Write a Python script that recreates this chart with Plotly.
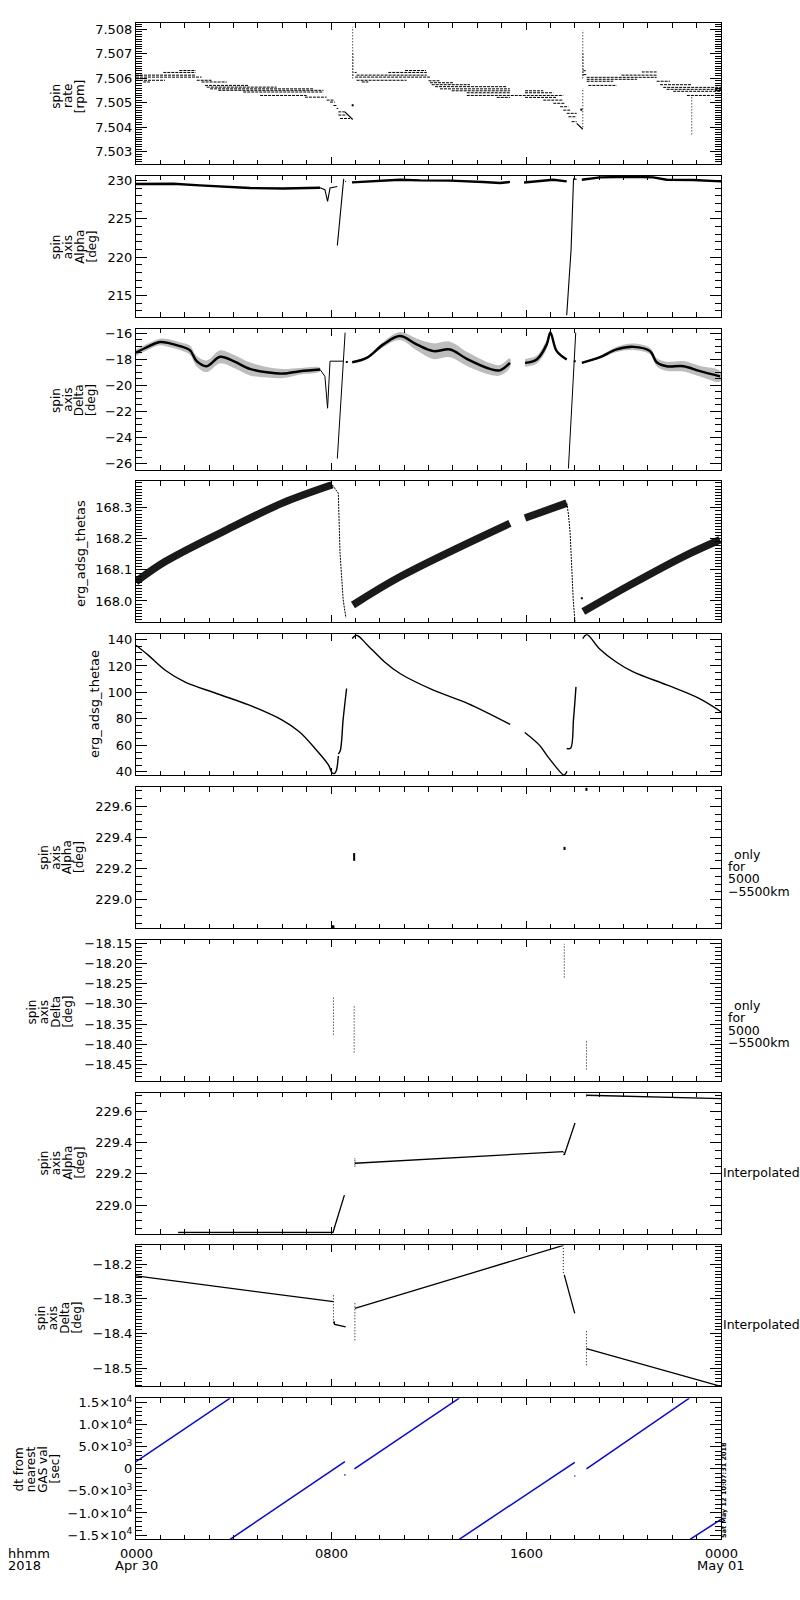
import plotly.graph_objects as go

# ── Values (x = hours after 2018-04-30 00:00) ────────────────────────────────

# panel 1: spin rate [rpm] – quantised levels as horizontal runs (h0, h1, value)
SPIN_RATE_ROWS = [
    (0.00, 2.45, 7.50613), (0.00, 2.69, 7.50605), (0.00, 1.19, 7.50592),
    (0.30, 0.57, 7.50585), (1.12, 2.45, 7.50624), (1.78, 2.45, 7.50632),
    (2.49, 3.10, 7.50592), (2.69, 3.72, 7.50585), (2.83, 4.61, 7.50571),
    (2.90, 5.77, 7.50564), (3.04, 7.27, 7.50557), (3.38, 7.69, 7.50551),
    (4.40, 7.69, 7.50544), (5.09, 7.00, 7.50530), (6.93, 7.82, 7.50523),
    (7.82, 8.10, 7.50511), (7.96, 8.16, 7.50503), (8.10, 8.23, 7.50489),
    (8.23, 8.30, 7.50477), (8.30, 8.57, 7.50463), (8.30, 8.64, 7.50450),
    (8.37, 8.78, 7.50436),
    (8.97, 9.05, 7.50624), (10.35, 11.93, 7.50624), (11.04, 11.90, 7.50632),
    (9.05, 11.93, 7.50613), (8.99, 12.06, 7.50605), (9.05, 11.10, 7.50592),
    (9.26, 9.53, 7.50585), (12.00, 12.47, 7.50590), (12.06, 13.02, 7.50582),
    (12.13, 13.70, 7.50574), (12.27, 15.20, 7.50566), (12.47, 15.34, 7.50557),
    (12.95, 15.34, 7.50549), (13.57, 15.34, 7.50541), (13.57, 17.53, 7.50530),
    (14.80, 15.34, 7.50522), (15.96, 16.71, 7.50549), (15.96, 17.12, 7.50541),
    (15.96, 17.26, 7.50522), (16.71, 17.53, 7.50511), (17.12, 17.60, 7.50498),
    (17.40, 17.74, 7.50484), (17.53, 17.81, 7.50470), (17.67, 18.08, 7.50457),
    (17.74, 18.05, 7.50443), (17.87, 18.08, 7.50423),
    (18.35, 18.45, 7.50631), (18.35, 18.49, 7.50615), (18.49, 21.36, 7.50604),
    (18.49, 20.55, 7.50596), (18.49, 19.58, 7.50588), (18.56, 19.72, 7.50571),
    (19.92, 21.36, 7.50613), (20.75, 21.36, 7.50626), (21.36, 21.91, 7.50588),
    (21.50, 22.79, 7.50574), (21.63, 24.00, 7.50563), (21.77, 24.00, 7.50555),
    (22.04, 24.00, 7.50547), (22.60, 24.00, 7.50530),
]
SPIN_RATE_DROPS = [
    [(8.57, 7.50463), (8.89, 7.50432)],
    [(18.08, 7.50416), (18.33, 7.50392)],
]
SPIN_RATE_SPIKES = [  # (h, low, high)
    (8.89, 7.50600, 7.50810), (8.90, 7.50610, 7.50700),
    (18.33, 7.50600, 7.50797), (18.34, 7.50610, 7.50700),
    (18.33, 7.50400, 7.50560), (22.80, 7.50371, 7.50530),
]
SPIN_RATE_DOTS_H = [8.89, 18.27]
SPIN_RATE_DOTS_V = [7.50490, 7.50472]

# panel 2: spin axis alpha [deg] – noisy runs and thin steep parts
ALPHA_SEGS = [
    [(0.00, 229.53), (1.53, 229.57), (2.62, 229.35), (3.45, 229.21), (4.67, 229.00),
     (6.04, 228.95), (7.55, 229.04)],
    [(8.86, 229.74), (9.45, 229.87), (10.83, 230.09), (11.65, 230.00), (12.88, 229.97),
     (14.25, 229.80), (14.93, 229.66), (15.34, 229.80)],
    [(15.92, 229.72), (16.57, 229.97), (17.12, 230.09), (17.67, 229.87)],
    [(18.29, 230.09), (19.04, 230.40), (20.40, 230.47), (21.22, 230.40), (21.77, 230.09),
     (22.86, 230.05), (24.00, 229.87)],
]
ALPHA_STEEP = [
    [(7.55, 229.04), (7.75, 228.78), (7.86, 227.25), (7.96, 229.00), (8.26, 229.20)],
    [(8.26, 221.50), (8.40, 226.00), (8.52, 230.20)],
    [(8.58, 229.90), (8.62, 229.85)],
    [(17.67, 212.40), (17.85, 221.00), (17.95, 230.20), (18.08, 230.15)],
]

# panel 3: spin axis delta [deg] – noisy bands (h, centre, half-spread) + thin lines
DELTA_BANDS = [
    [(0.00, -17.49, 0.25), (0.40, -17.11, 0.25), (0.98, -16.67, 0.25), (1.39, -16.77, 0.30),
     (1.80, -16.98, 0.30), (2.21, -17.29, 0.35), (2.49, -18.14, 0.40), (2.90, -18.53, 0.45),
     (3.45, -17.80, 0.50), (4.00, -18.14, 0.50), (4.67, -18.73, 0.50), (5.36, -18.99, 0.40),
     (6.04, -19.09, 0.35), (6.73, -18.91, 0.25), (7.55, -18.78, 0.15)],
    [(8.87, -18.22, 0.05), (9.46, -17.89, 0.10), (10.15, -16.85, 0.20), (10.83, -16.21, 0.30),
     (11.51, -16.85, 0.45), (12.20, -17.37, 0.60), (12.88, -17.24, 0.60), (13.57, -17.96, 0.55),
     (14.52, -18.73, 0.45), (14.93, -18.84, 0.40), (15.34, -18.27, 0.35)],
    [(15.96, -18.27, 0.30), (16.44, -18.01, 0.30), (16.85, -16.85, 0.35), (17.00, -15.95, 0.20),
     (17.26, -17.37, 0.10), (17.67, -18.01, 0.05)],
    [(18.29, -18.27, 0.05), (19.04, -17.83, 0.10), (19.72, -17.24, 0.20), (20.40, -17.04, 0.25),
     (21.09, -17.37, 0.25), (21.36, -18.22, 0.30), (21.77, -18.53, 0.35), (22.46, -18.53, 0.40),
     (23.14, -18.91, 0.40), (23.96, -19.30, 0.40)],
]
DELTA_LINES = [
    [(7.55, -18.78), (7.75, -19.30), (7.86, -21.75), (7.96, -18.14), (8.50, -18.14)],
    [(8.26, -25.61), (8.42, -20.80), (8.58, -15.95)],
    [(17.74, -26.38), (17.90, -21.20), (18.04, -15.95)],
]
DELTA_DOTS_H = [8.65, 18.00]
DELTA_DOTS_V = [-18.20, -18.14]

# panel 4: erg_adsg_thetas
THETAS_BANDS = [
    [(0.00, 168.062), (1.20, 168.127), (4.00, 168.240), (6.00, 168.315), (8.05, 168.374)],
    [(8.90, 167.987), (10.83, 168.078), (15.34, 168.250)],
    [(15.96, 168.267), (17.67, 168.315)],
    [(18.35, 167.966), (20.40, 168.057), (22.46, 168.143), (23.96, 168.197)],
]
THETAS_DROPS = [
    [(8.05, 168.374), (8.30, 168.347), (8.37, 168.154), (8.50, 168.003), (8.61, 167.946)],
    [(17.67, 168.315), (17.74, 168.280), (17.81, 168.220), (17.87, 168.110),
     (17.94, 168.000), (18.01, 167.934)],
]
THETAS_DOTS_H = [18.29]
THETAS_DOTS_V = [168.009]

# panel 5: erg_adsg_thetae
THETAE_SEGS = [
    [(0.00, 135.7), (0.50, 128.2), (1.20, 116.8), (2.00, 108.0), (3.30, 99.2), (4.65, 90.4),
     (6.00, 79.1), (6.70, 70.3), (7.40, 56.5), (7.90, 45.1), (8.05, 39.2), (8.15, 38.9),
     (8.22, 41.0), (8.30, 52.0)],
    [(8.30, 53.5), (8.38, 56.0), (8.50, 80.0), (8.64, 103.0)],
    [(8.87, 140.7), (9.05, 143.2), (9.50, 135.7), (10.20, 123.0), (10.83, 114.3),
     (12.20, 101.7), (13.60, 91.7), (15.35, 75.8)],
    [(15.95, 69.8), (16.55, 60.2), (16.95, 50.2), (17.55, 37.6), (17.62, 38.5), (17.68, 40.5)],
    [(17.67, 57.7), (17.83, 57.9), (17.95, 80.0), (18.05, 104.2)],
    [(18.33, 140.7), (18.50, 143.7), (19.00, 133.2), (19.70, 123.0), (20.40, 115.5),
     (21.80, 105.5), (23.10, 95.5), (24.00, 85.4)],
]

# panel 6: spin axis alpha, only for 5000-5500 km (h, low, high)
ALPHA_ONLY_MARKS = [
    (8.05, 228.818, 228.835), (8.10, 228.818, 228.835), (8.95, 229.250, 229.300),
    (17.58, 229.320, 229.340), (18.48, 229.700, 229.720),
]

# panel 7: spin axis delta, only for 5000-5500 km (h, low, high)
DELTA_ONLY_MARKS = [
    (8.10, -18.376, -18.280), (8.95, -18.420, -18.304),
    (17.57, -18.235, -18.152), (18.48, -18.462, -18.392),
]

# panel 8: spin axis alpha, interpolated
ALPHA_INTERP_SEGS = [
    [(1.73, 228.825), (8.08, 228.825), (8.55, 229.064)],
    [(8.98, 229.268), (17.53, 229.343)],
    [(17.57, 229.321), (18.01, 229.525)],
    [(18.48, 229.703), (24.00, 229.682)],
]
ALPHA_INTERP_MARKS = [(8.98, 229.246, 229.300), (17.55, 229.320, 229.345), (18.48, 229.695, 229.712)]

# panel 9: spin axis delta, interpolated
DELTA_INTERP_SEGS = [
    [(0.00, -18.234), (8.10, -18.3085)],
    [(8.12, -18.365), (8.15, -18.374), (8.60, -18.381)],
    [(8.98, -18.328), (17.53, -18.146)],
    [(17.57, -18.231), (18.00, -18.342)],
    [(18.48, -18.444), (24.00, -18.553)],
]
DELTA_INTERP_MARKS = [(8.10, -18.371, -18.284), (8.98, -18.420, -18.308),
                      (17.53, -18.226, -18.146), (18.48, -18.492, -18.390)]

# panel 10: dt from nearest GAS val [sec]
DT_SEGS = [
    [(0.00, 1620), (3.86, 16000)],
    [(3.86, -15980), (8.57, 1620)],
    [(8.96, 0), (13.26, 16000)],
    [(13.26, -15980), (18.00, 1485)],
    [(18.48, 0), (22.70, 16000)],
    [(22.73, -15980), (24.00, -11450)],
]
DT_MARKS = [(8.57, -1500, -1250), (18.00, -1750, -1500)]

# axes: ranges, tick values, minor tick step, tick text format
Y_RANGES = [
    [7.5025, 7.50826], [212.2, 230.6], [-26.46, -15.64], [167.931, 168.385], [37.5, 144.0],
    [228.818, 229.725], [-18.49, -18.142], [228.818, 229.72], [-18.553, -18.146], [-15900, 16000],
]
Y_TICKS = [
    [7.503, 7.504, 7.505, 7.506, 7.507, 7.508],
    [215, 220, 225, 230],
    [-26, -24, -22, -20, -18, -16],
    [168.0, 168.1, 168.2, 168.3],
    [40, 60, 80, 100, 120, 140],
    [229.0, 229.2, 229.4, 229.6],
    [-18.45, -18.40, -18.35, -18.30, -18.25, -18.20, -18.15],
    [229.0, 229.2, 229.4, 229.6],
    [-18.5, -18.4, -18.3, -18.2],
    [-15000, -10000, -5000, 0, 5000, 10000, 15000],
]
Y_MINOR = [0.0001, 1, 0.5, 0.01, 5, 0.05, 0.01, 0.05, 0.01, 1000]
Y_DECIMALS = [3, 0, 0, 1, 0, 1, 2, 1, 1, None]
DT_TICKTEXT = ["−1.5×10<sup>4</sup>", "−1.0×10<sup>4</sup>", "−5.0×10<sup>3</sup>", "0",
               "5.0×10<sup>3</sup>", "1.0×10<sup>4</sup>", "1.5×10<sup>4</sup>"]

Y_TITLES = [
    ["spin", "rate", "[rpm]"],
    ["spin", "axis", "Alpha", "[deg]"],
    ["spin", "axis", "Delta", "[deg]"],
    ["erg_adsg_thetas"],
    ["erg_adsg_thetae"],
    ["spin", "axis", "Alpha", "[deg]"],
    ["spin", "axis", "Delta", "[deg]"],
    ["spin", "axis", "Alpha", "[deg]"],
    ["spin", "axis", "Delta", "[deg]"],
    ["dt from", "nearest", "GAS val", "[sec]"],
]
ONLY_NOTE = ["only", "for", "5000", "−5500km"]
X_TICK_HOURS = [0, 8, 16, 24]
X_TICK_TOP = ["0000", "0800", "1600", "0000"]
X_TICK_BOTTOM = ["Apr 30", "", "", "May 01"]
STAMP = "Sat May 12 10:07:31 2018"

# ── page geometry (pixels) ───────────────────────────────────────────────
W, H = 800, 1600
L, R, T, B = 136, 79, 23, 61
PW, PH = W - L - R, H - T - B
PANEL_STEP, PANEL_H = 152.8, 141
FONT = "DejaVu Sans"

TITLE_POS = [(68, 96), (74, 247), (73.5, 400), (80.5, 553.5), (94, 704),
             (61, 857.5), (50, 1012), (62, 1163), (59, 1318), (37, 1469)]


def px_x(px):
    return (px - L) / PW


def px_y(py):
    return 1 - (py - T) / PH


def ax_names(n):
    return ("x" if n == 1 else f"x{n}"), ("y" if n == 1 else f"y{n}")


def segs_xy(segs):
    xs, ys = [], []
    for seg in segs:
        for p in seg:
            xs.append(p[0])
            ys.append(p[1])
        xs.append(None)
        ys.append(None)
    return xs, ys


def rows_xy(rows):
    xs, ys = [], []
    for h0, h1, v in rows:
        xs += [h0, h1, None]
        ys += [v, v, None]
    return xs, ys


def verticals_xy(runs):
    xs, ys = [], []
    for h, lo, hi in runs:
        xs += [h, h, None]
        ys += [lo, hi, None]
    return xs, ys


fig = go.Figure()


def add(n, xs, ys, color="black", width=1.0, dash=None, shape="linear", mode="lines",
        fill=None, fillcolor=None, msize=2):
    xa, ya = ax_names(n)
    fig.add_trace(go.Scatter(
        x=xs, y=ys, mode=mode, xaxis=xa, yaxis=ya,
        line=dict(color=color, width=width, dash=dash, shape=shape),
        marker=dict(color=color, size=msize, symbol="square"),
        fill=fill, fillcolor=fillcolor,
        showlegend=False, hoverinfo="skip",
    ))


# panel 1
add(1, *rows_xy(SPIN_RATE_ROWS), width=1, dash="3px,1px")
add(1, *segs_xy(SPIN_RATE_DROPS), width=1.2)
add(1, *verticals_xy(SPIN_RATE_SPIKES), width=1, dash="1px,2px")
add(1, SPIN_RATE_DOTS_H, SPIN_RATE_DOTS_V, mode="markers", msize=2)

# panel 2
add(2, *segs_xy(ALPHA_SEGS), width=2.4)
add(2, *segs_xy(ALPHA_STEEP), width=1.1)

# panel 3
for band in DELTA_BANDS:
    hs = [p[0] for p in band]
    hi = [p[1] + p[2] for p in band]
    lo = [p[1] - p[2] for p in band]
    add(3, hs + hs[::-1], hi + lo[::-1], width=0, fill="toself",
        fillcolor="rgba(0,0,0,0.26)", shape="spline")
add(3, *segs_xy([[(p[0], p[1]) for p in band] for band in DELTA_BANDS]),
    width=2.4, shape="spline")
add(3, *segs_xy(DELTA_LINES), width=1)
add(3, DELTA_DOTS_H, DELTA_DOTS_V, mode="markers", msize=2)

# panel 4
add(4, *segs_xy(THETAS_BANDS), width=7.5, color="#1a1a1a", shape="spline")
add(4, *segs_xy(THETAS_DROPS), width=1, dash="2px,1px")
add(4, THETAS_DOTS_H, THETAS_DOTS_V, mode="markers", msize=2)

# panel 5
add(5, *segs_xy(THETAE_SEGS), width=1.4, shape="spline")

# panel 6 / 7
add(6, *verticals_xy(ALPHA_ONLY_MARKS), width=2)
add(7, *verticals_xy(DELTA_ONLY_MARKS), width=1, dash="1px,2px")

# panel 8
add(8, *segs_xy(ALPHA_INTERP_SEGS), width=1.3)
add(8, *verticals_xy(ALPHA_INTERP_MARKS), width=1, dash="1px,1px")

# panel 9
add(9, *segs_xy(DELTA_INTERP_SEGS), width=1.3)
add(9, *verticals_xy(DELTA_INTERP_MARKS), width=1, dash="1px,2px")

# panel 10
add(10, *segs_xy(DT_SEGS), color="#0000ff", width=1.5)
add(10, *verticals_xy(DT_MARKS), color="#0000ff", width=1.5)

# ── axes ─────────────────────────────────────────────────────────────────
layout_axes = {}
for i in range(10):
    n = i + 1
    xa, ya = ax_names(n)
    top = T + i * PANEL_STEP
    bot = min(top + PANEL_H, T + PH)
    dom = [max(0.0, 1 - (bot - T) / PH), min(1.0, 1 - (top - T) / PH)]
    layout_axes["xaxis" if n == 1 else f"xaxis{n}"] = dict(
        domain=[0, 1], range=[0, 24], anchor=ya,
        showline=True, linecolor="black", linewidth=1, mirror="allticks",
        ticks="inside", tickvals=X_TICK_HOURS, ticklen=7, tickcolor="black",
        showticklabels=False, showgrid=False, zeroline=False,
        minor=dict(dtick=1, tick0=0, ticks="inside", ticklen=4.5, tickcolor="black",
                   showgrid=False),
    )
    if Y_DECIMALS[i] is None:
        ticktext = DT_TICKTEXT
    else:
        ticktext = [f"{v:.{Y_DECIMALS[i]}f}".replace("-", "−") for v in Y_TICKS[i]]
    layout_axes["yaxis" if n == 1 else f"yaxis{n}"] = dict(
        domain=dom, range=Y_RANGES[i], anchor=xa,
        showline=True, linecolor="black", linewidth=1, mirror="allticks",
        ticks="inside", tickvals=Y_TICKS[i], ticktext=ticktext, ticklen=11,
        tickcolor="black", showgrid=False, zeroline=False,
        tickfont=dict(family=FONT, size=13, color="black"),
        minor=dict(dtick=Y_MINOR[i], tick0=Y_TICKS[i][0], ticks="inside", ticklen=6,
                   tickcolor="black", showgrid=False),
    )

# ── text ─────────────────────────────────────────────────────────────────
def label(s, px, py, size, xanchor="center", yanchor="middle", angle=0):
    return dict(text=s, x=px_x(px), y=px_y(py), xref="paper", yref="paper",
                showarrow=False, xanchor=xanchor, yanchor=yanchor, textangle=angle,
                borderpad=0, font=dict(family=FONT, size=size, color="black"))


annotations = []
for lines, (cx, cy) in zip(Y_TITLES, TITLE_POS):
    size = 13 if len(lines) == 1 else 12
    spacing = 12.3 if len(lines) == 3 else 11.7
    for j, s in enumerate(lines):
        annotations.append(label(s, cx + (j - (len(lines) - 1) / 2) * spacing, cy, size,
                                 angle=-90))

for y0 in (854, 1005.5):
    for j, s in enumerate(ONLY_NOTE):
        annotations.append(label(s, 733 if j == 0 else 727, y0 + j * 12.4, 12.5,
                                 xanchor="left"))

for yc in (1172, 1324):
    annotations.append(label("Interpolated", 721.5, yc, 12.5, xanchor="left"))

annotations.append(label(f"<b>{STAMP}</b>", 724, 1539, 6.5, yanchor="bottom", angle=-90))

annotations.append(label("hhmm", 7, 1553, 13, xanchor="left"))
annotations.append(label("2018", 7, 1565, 13, xanchor="left"))
for h, t1, t2 in zip(X_TICK_HOURS, X_TICK_TOP, X_TICK_BOTTOM):
    xp = L + h / 24 * PW
    annotations.append(label(t1, xp, 1553, 13))
    if t2:
        annotations.append(label(t2, xp, 1565, 13))

fig.update_layout(
    width=W, height=H,
    margin=dict(l=L, r=R, t=T, b=B, pad=0),
    paper_bgcolor="white", plot_bgcolor="white",
    font=dict(family=FONT, size=13, color="black"),
    annotations=annotations,
    **layout_axes,
)

fig.write_html("out.html", config={"displayModeBar": False},
               post_script="document.body.style.margin='0';")
